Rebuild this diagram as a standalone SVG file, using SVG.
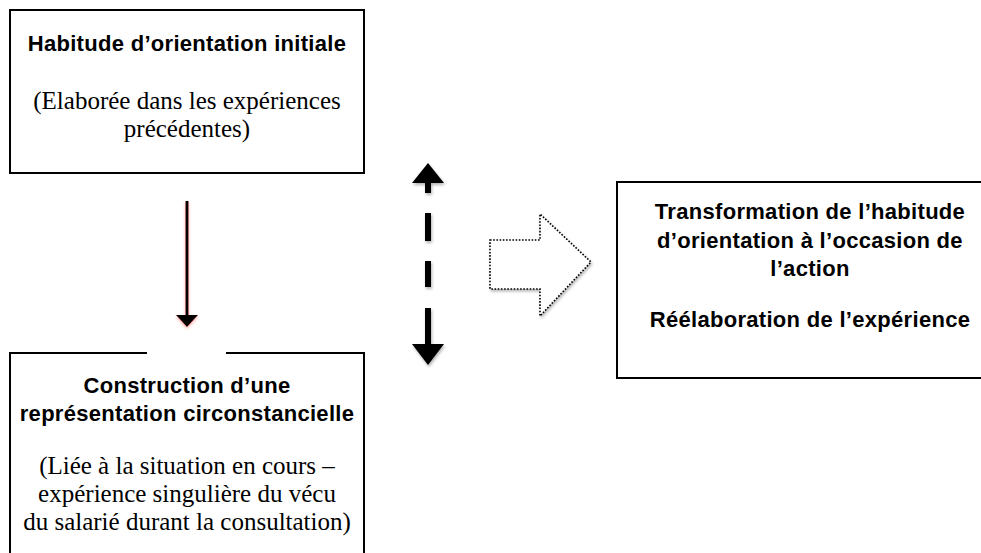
<svg xmlns="http://www.w3.org/2000/svg" width="981" height="553" viewBox="0 0 981 553">
  <style>
    .box { fill: #ffffff; stroke: #000000; stroke-width: 2; }
    .edge { fill: none; stroke: #000000; stroke-width: 2; }
    .bold { font-family: "Liberation Sans", Arial, sans-serif; font-weight: bold; font-size: 22px; letter-spacing: 0.3px; fill: #000000; text-anchor: middle; }
    .serif { font-family: "Liberation Serif", "Times New Roman", serif; font-size: 25px; fill: #000000; text-anchor: middle; }
  </style>
  <defs>
    <filter id="redglow" x="-50%" y="-20%" width="200%" height="140%">
      <feDropShadow dx="0" dy="1.5" stdDeviation="1.5" flood-color="#ff3030" flood-opacity="0.45"/>
    </filter>
    <filter id="greyshadow" x="-30%" y="-20%" width="160%" height="140%">
      <feDropShadow dx="1" dy="2" stdDeviation="1.5" flood-color="#000000" flood-opacity="0.3"/>
    </filter>
  </defs>
  <rect width="981" height="553" fill="#ffffff"/>

  <g id="node-habitude">
    <rect class="box" x="10" y="10" width="354" height="163"/>
    <text class="bold" x="187" y="51">Habitude d’orientation initiale</text>
    <text class="serif" x="187" y="109">(Elaborée dans les expériences</text>
    <text class="serif" x="187" y="137">précédentes)</text>
  </g>

  <g id="node-construction">
    <path class="edge" d="M147,353 H10 V560 M226,353 H364 V560"/>
    <text class="bold" x="187" y="393">Construction d’une</text>
    <text class="bold" x="187" y="421">représentation circonstancielle</text>
    <text class="serif" x="187" y="474">(Liée à la situation en cours –</text>
    <text class="serif" x="187" y="502">expérience singulière du vécu</text>
    <text class="serif" x="187" y="530">du salarié durant la consultation)</text>
  </g>

  <g id="node-transformation">
    <rect class="box" x="617" y="182" width="380" height="196"/>
    <text class="bold" x="810" y="219">Transformation de l’habitude</text>
    <text class="bold" x="810" y="248">d’orientation à l’occasion de</text>
    <text class="bold" x="810" y="276">l’action</text>
    <text class="bold" x="810" y="327">Réélaboration de l’expérience</text>
  </g>

  <g id="connectors">
    <g id="arrow-down" filter="url(#redglow)">
      <line x1="187" y1="201" x2="187" y2="316" stroke="#000000" stroke-width="3"/>
      <polygon points="176,315 198,315 187,327" fill="#000000"/>
    </g>
    <g id="arrow-double-dashed" filter="url(#greyshadow)" fill="#000000">
      <polygon points="428,163 444,183 412,183"/>
      <rect x="425" y="182" width="6" height="11"/>
      <rect x="425" y="213" width="6" height="28"/>
      <rect x="425" y="261" width="6" height="26"/>
      <rect x="425" y="308" width="6" height="37"/>
      <polygon points="412,344 444,344 428,365"/>
    </g>
    <g id="arrow-block" filter="url(#greyshadow)">
      <polygon points="490,240 540,240 540,214 591,262 540,316 540,289 490,289" fill="#ffffff" stroke="#000000" stroke-width="1.6" stroke-dasharray="1.6 1.6"/>
    </g>
  </g>
</svg>
